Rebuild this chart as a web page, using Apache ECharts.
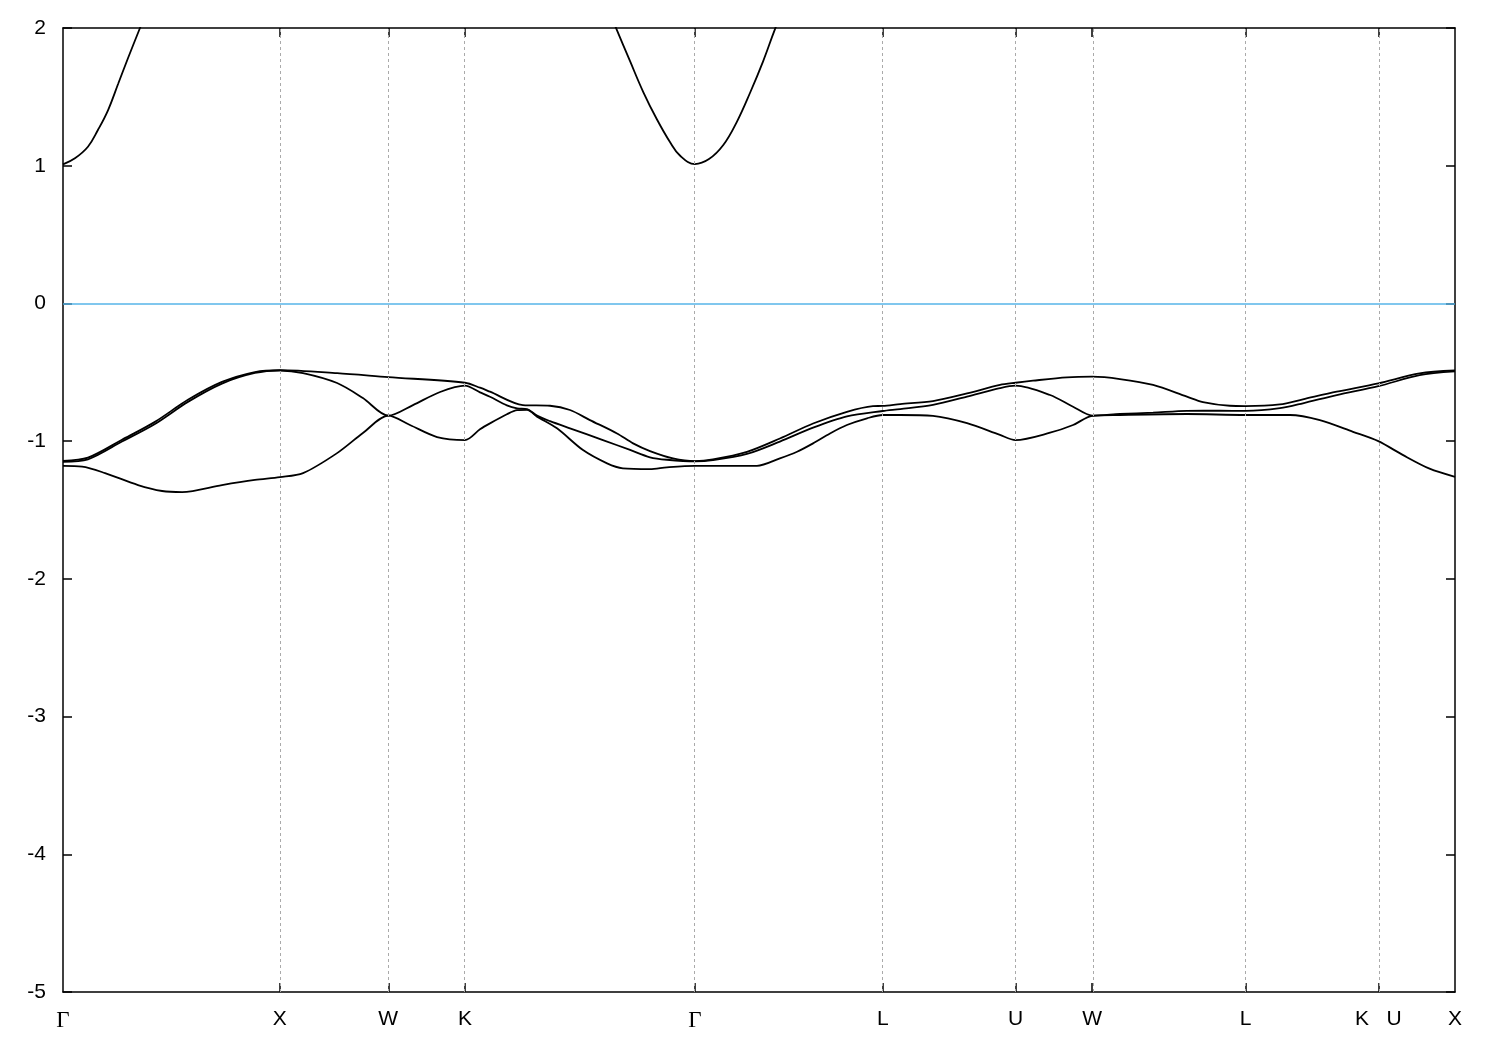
<!DOCTYPE html>
<html><head><meta charset="utf-8">
<script src="https://cdn.jsdelivr.net/npm/echarts@6/dist/echarts.min.js"></script>
<style>html,body{margin:0;padding:0;background:#fff}#c{width:1500px;height:1050px}</style>
</head><body><div id="c"></div>
<script>
// High-symmetry points along the k-path
const kPoints = [0, 1, 1.5, 1.8536, 2.9142, 3.7802, 4.3926, 4.7462, 5.4533, 6.0657, 6.4193];
const kLabels = ['Γ', 'X', 'W', 'K', 'Γ', 'L', 'U', 'W', 'L', 'K|U', 'X'];
const yMin = -5, yMax = 2, yStep = 1;
const fermi = 0;

// Valence bands [k, E]
const band1 = [
  [0,-1.143],[0.115,-1.12],[0.272,-0.99],[0.424,-0.86],[0.576,-0.70],[0.733,-0.57],[0.885,-0.498],[1.0,-0.484],
  [1.264,-0.506],[1.5,-0.535],[1.8536,-0.576],
  [1.923,-0.612],[1.969,-0.641],[2.121,-0.738],[2.246,-0.743],[2.338,-0.774],[2.430,-0.847],[2.555,-0.944],[2.629,-1.016],[2.707,-1.072],[2.813,-1.125],[2.9142,-1.145],
  [2.997,-1.133],[3.154,-1.078],[3.306,-0.981],[3.459,-0.872],[3.615,-0.787],[3.735,-0.746],[3.7802,-0.744],
  [3.861,-0.731],[4.012,-0.709],[4.169,-0.653],[4.321,-0.592],[4.3926,-0.576],
  [4.473,-0.561],[4.630,-0.537],[4.7462,-0.532],
  [4.874,-0.549],[5.027,-0.592],[5.183,-0.677],[5.257,-0.716],[5.381,-0.743],[5.4533,-0.745],
  [5.612,-0.733],[5.718,-0.696],[5.874,-0.641],[6.0657,-0.580],
  [6.256,-0.508],[6.4193,-0.487]
];
const band2 = [
  [0,-1.150],[0.115,-1.132],[0.272,-1.003],[0.424,-0.875],[0.576,-0.715],[0.733,-0.582],[0.885,-0.505],[1.0,-0.487],
  [1.107,-0.506],[1.264,-0.578],[1.383,-0.687],[1.5,-0.815],
  [1.614,-0.738],[1.739,-0.643],[1.8536,-0.597],
  [1.923,-0.646],[1.969,-0.678],[2.047,-0.740],[2.094,-0.762],[2.140,-0.767],[2.186,-0.815],[2.246,-0.855],[2.338,-0.907],[2.490,-0.992],[2.615,-1.064],[2.707,-1.117],[2.785,-1.135],[2.9142,-1.147],
  [2.997,-1.138],[3.154,-1.093],[3.306,-1.003],[3.459,-0.902],[3.615,-0.820],[3.7802,-0.781],
  [3.861,-0.767],[4.012,-0.736],[4.169,-0.676],[4.321,-0.615],[4.3926,-0.597],
  [4.552,-0.665],[4.658,-0.750],[4.7462,-0.814],
  [4.874,-0.803],[5.027,-0.793],[5.183,-0.780],[5.335,-0.779],[5.4533,-0.780],
  [5.612,-0.761],[5.718,-0.725],[5.874,-0.665],[6.0657,-0.601],
  [6.256,-0.521],[6.4193,-0.494]
];
const band3 = [
  [0,-1.180],[0.088,-1.185],[0.194,-1.232],[0.346,-1.319],[0.457,-1.362],[0.549,-1.370],[0.733,-1.319],[0.885,-1.282],[1.0,-1.261],
  [1.107,-1.232],[1.264,-1.087],[1.383,-0.941],[1.5,-0.815],
  [1.600,-0.883],[1.725,-0.970],[1.8536,-0.992],
  [1.923,-0.914],[1.969,-0.871],[2.047,-0.805],[2.094,-0.775],[2.140,-0.773],[2.186,-0.822],[2.278,-0.907],[2.398,-1.065],[2.509,-1.161],[2.582,-1.197],[2.707,-1.203],[2.785,-1.190],[2.9142,-1.179],
  [3.200,-1.179],[3.306,-1.125],[3.385,-1.077],[3.459,-1.016],[3.537,-0.944],[3.615,-0.883],[3.708,-0.834],[3.7802,-0.810],
  [3.861,-0.810],[4.012,-0.817],[4.169,-0.870],[4.321,-0.955],[4.3926,-0.992],
  [4.552,-0.939],[4.658,-0.883],[4.7462,-0.816],
  [4.874,-0.810],[5.183,-0.803],[5.4533,-0.810],
  [5.658,-0.810],[5.796,-0.847],[5.949,-0.932],[6.0657,-1.000],
  [6.178,-1.100],[6.302,-1.200],[6.4193,-1.259]
];
// Conduction band pieces visible below 2 eV
const cond1 = [[0,1.010],[0.055,1.054],[0.115,1.138],[0.161,1.259],[0.208,1.404],[0.254,1.593],[0.300,1.782],[0.355,2.000],[0.401,2.180]];
const cond2 = [[2.499,2.190],[2.553,1.990],[2.615,1.759],[2.676,1.535],[2.738,1.339],[2.799,1.172],[2.845,1.074],[2.9142,1.012],[2.979,1.048],[3.045,1.150],[3.107,1.317],[3.168,1.528],[3.229,1.760],[3.283,1.990],[3.330,2.170]];

const bands = [band1, band2, band3, cond1, cond2];

function labelFor(v) {
  for (let i = 0; i < kPoints.length; i++) {
    if (Math.abs(v - kPoints[i]) < 1e-6) {
      const l = kLabels[i];
      if (l === 'Γ') return '{g|Γ}';
      if (l === 'K|U') return 'K   U';
      return l;
    }
  }
  return '';
}

const chart = echarts.init(document.getElementById('c'), null, {renderer: 'canvas'});
const font = 'Liberation Sans, Arial, sans-serif';
const series = bands.map((b, i) => ({
  type: 'line', data: b, showSymbol: false, smooth: i >= 3 ? 0.4 : 0.3, clip: true,
  lineStyle: {color: '#000', width: 1.8}, silent: true, z: 3
}));
series.push({
  type: 'line', data: [], silent: true,
  markLine: {
    silent: true, symbol: 'none', label: {show: false}, animation: false,
    data: kPoints.slice(1, -1).map(k => ({xAxis: k, lineStyle: {color: '#aaaaaa', type: [3, 3], width: 1}}))
      .concat([{yAxis: fermi, lineStyle: {color: '#56b4e9', type: 'solid', width: 1.5}}])
  }
});

chart.setOption({
  animation: false,
  backgroundColor: '#fff',
  grid: {left: 63, right: 45, top: 28, bottom: 58, containLabel: false, show: false},
  xAxis: [{
    type: 'value', min: kPoints[0], max: kPoints[kPoints.length - 1], position: 'bottom',
    axisLine: {show: true, onZero: false, lineStyle: {color: '#000', width: 1.5}},
    axisTick: {show: true, inside: true, length: 9, customValues: kPoints.slice(1, -1), lineStyle: {color: '#000', width: 1.5}},
    axisLabel: {
      show: true, customValues: kPoints, formatter: labelFor, margin: 17, color: '#000',
      fontSize: 21, fontFamily: font,
      rich: {g: {fontFamily: 'Liberation Serif, DejaVu Serif, serif', fontSize: 23, color: '#000'}}
    },
    splitLine: {show: false}
  }, {
    type: 'value', min: kPoints[0], max: kPoints[kPoints.length - 1], position: 'top',
    axisLine: {show: true, onZero: false, lineStyle: {color: '#000', width: 1.5}},
    axisTick: {show: true, inside: true, length: 9, customValues: kPoints.slice(1, -1), lineStyle: {color: '#000', width: 1.5}},
    axisLabel: {show: false},
    splitLine: {show: false}
  }],
  yAxis: [{
    type: 'value', min: yMin, max: yMax, interval: yStep, position: 'left',
    axisLine: {show: true, onZero: false, lineStyle: {color: '#000', width: 1.5}},
    axisTick: {show: true, inside: true, length: 9, lineStyle: {color: '#000', width: 1.5}},
    axisLabel: {color: '#000', fontSize: 21, fontFamily: font, margin: 17},
    splitLine: {show: false}
  }, {
    type: 'value', min: yMin, max: yMax, interval: yStep, position: 'right',
    axisLine: {show: true, onZero: false, lineStyle: {color: '#000', width: 1.5}},
    axisTick: {show: true, inside: true, length: 9, lineStyle: {color: '#000', width: 1.5}},
    axisLabel: {show: false},
    splitLine: {show: false}
  }],
  series: series
});
</script>
</body></html>
